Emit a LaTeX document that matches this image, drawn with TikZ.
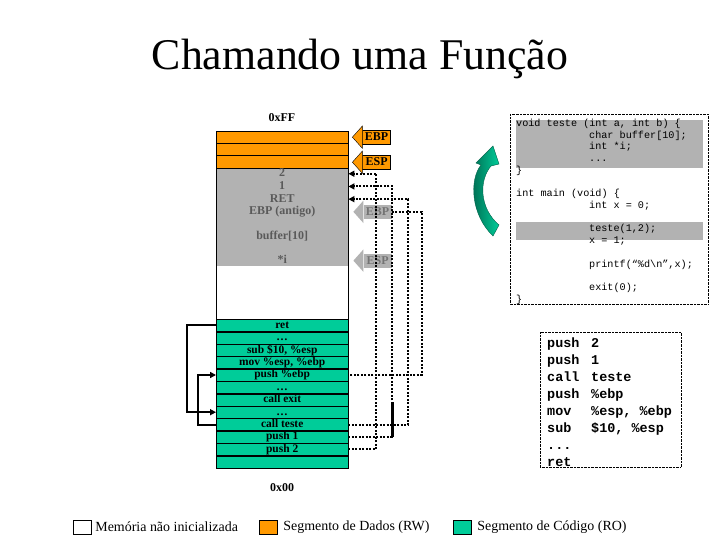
\documentclass[tikz,border=0pt]{standalone}
\usepackage{fontspec}
\setmainfont{Liberation Serif}
\setmonofont{Liberation Mono}
\usetikzlibrary{positioning,arrows.meta,calc}

\definecolor{dados}{RGB}{255,153,0}
\definecolor{codigo}{RGB}{0,204,153}
\definecolor{pilha}{RGB}{178,178,178}
\definecolor{pilhatxt}{RGB}{90,90,90}
\definecolor{rotulotxt}{RGB}{115,115,115}
\definecolor{verdeescuro}{RGB}{0,100,75}

\newcommand{\recuo}{\hspace*{73bp}}
\newcommand{\esp}{\hspace{0.6em}}
\newcommand{\instr}[2]{\makebox[44bp][l]{#1}#2}
\newcommand{\fontecodigo}{\fontsize{10.2}{11.75}\selectfont\ttfamily}
\newcommand{\fonteasm}{\fontsize{13.5}{17}\selectfont\ttfamily\bfseries}
% arrow head on the left of a register label
\newcommand{\cabeca}[2]{\filldraw[#2] (#1.north west) -- ++(0,-4) -- ($(#1.west)+(-10,0)$) -- ($(#1.south west)+(0,4)$) -- (#1.south west);}

\begin{document}
\begin{tikzpicture}[
    x=1bp, y=-1bp,
    cell/.style={draw, thin, minimum width=132bp, inner sep=0pt, text height=8bp, text depth=2bp, anchor=north west},
    codecell/.style={cell, fill=codigo, minimum height=12bp, font=\fontsize{11.5}{12}\selectfont\bfseries},
    stacktext/.style={text=pilhatxt, font=\fontsize{12}{12}\selectfont\bfseries, inner sep=0pt, text height=8.3bp, text depth=2bp},
    regbox/.style={inner sep=1.5bp, minimum width=28bp, text height=9bp, text depth=2bp, font=\fontsize{12}{12}\selectfont\bfseries, anchor=west},
    databox/.style={regbox, draw, thin, fill=dados, text=black},
    stackbox/.style={regbox, fill=pilha, text=rotulotxt},
    link/.style={line width=2bp, dash pattern=on 2bp off 1.5bp},
    linkarrow/.style={link, -{Triangle[length=6bp,width=6bp]}},
    jump/.style={line width=2bp, -{Triangle[length=6bp,width=6bp]}},
    boxline/.style={densely dotted, thin},
    codetext/.style={anchor=north west, align=left, inner sep=0pt},
    legendbox/.style={draw, thin, minimum width=18bp, minimum height=14bp, inner sep=0pt},
    legendtext/.style={font=\fontsize{14}{14}\selectfont, anchor=west, inner sep=0pt},
]
\fill[white] (0,0) rectangle (720,540);
\useasboundingbox (0,0) rectangle (720,540);

% ---- Title ----
\node[font=\fontsize{44}{44}\selectfont] (titulo) at (360,59) {Chamando uma Função};

% ---- Memory column ----
\node[font=\fontsize{12}{12}\selectfont\bfseries] (topo) at (282,118) {0xFF};
\node[cell, fill=dados, minimum height=37bp] (dados) at (216,131) {};
\node[cell, draw=none, fill=pilha, minimum height=97bp, below=0pt of dados] (pilha) {};
\node[cell, draw=none, fill=white, minimum height=53bp, below=0pt of pilha] (livre) {};
\node[codecell, below=0pt of livre] (c1) {ret};
\node[codecell, below=0pt of c1] (c2) {\ldots};
\node[codecell, below=0pt of c2] (c3) {sub \$10, \%esp};
\node[codecell, below=0pt of c3] (c4) {mov \%esp, \%ebp};
\node[codecell, below=0pt of c4] (c5) {push \%ebp};
\node[codecell, below=0pt of c5] (c6) {\ldots};
\node[codecell, below=0pt of c6] (c7) {call exit};
\node[codecell, below=0pt of c7] (c8) {\ldots};
\node[codecell, below=0pt of c8] (c9) {call teste};
\node[codecell, below=0pt of c9] (c10) {push 1};
\node[codecell, below=0pt of c10] (c11) {push 2};
\node[codecell, below=0pt of c11] (c12) {};
\draw[thin] (dados.north west) rectangle (c12.south east);
\node[font=\fontsize{12}{12}\selectfont\bfseries, below=12bp of c12] (base) {0x00};

% stack frame contents
\node[stacktext, below=0pt of pilha.north] (t2) {2};
\node[stacktext, below=2bp of t2] (t1) {1};
\node[stacktext, below=2bp of t1] (tret) {RET};
\node[stacktext, below=2bp of tret] (tebp) {EBP (antigo)};
\node[stacktext, below=13.7bp of tebp] (tbuf) {buffer[10]};
\node[stacktext, below=13.7bp of tbuf] (ti) {*i};

% ---- Register pointers ----
\node[databox] (ebp1) at ($(dados.north east)+(14,6.17)$) {EBP};
\cabeca{ebp1}{fill=dados, draw=black, thin}
\node[databox] (esp1) at ($(dados.south east)+(14,-6.17)$) {ESP};
\cabeca{esp1}{fill=dados, draw=black, thin}
\node[stackbox] (ebp2) at ($(pilha.east |- tebp)+(15,0)$) {EBP};
\cabeca{ebp2}{fill=pilha, draw=none}
\node[stackbox] (esp2) at ($(pilha.east |- ti)+(15,0)$) {ESP};
\cabeca{esp2}{fill=pilha, draw=none}

% ---- Return addresses / pushed values ----
\draw[linkarrow] (c11.east) -- ++(28,0) |- (t2 -| pilha.east);
\draw[linkarrow] (c10.east) -- ++(44,0) |- (t1 -| pilha.east);
\draw[line width=2.2bp] ($(c10.east)+(44,0)$) -- ++(0,-35);
\draw[linkarrow] (c9.east) -- ++(60,0) |- (tret -| pilha.east);
\draw[link] (ebp2.east) -- ++(30,0) |- (c5.east);

% ---- Control flow ----
\draw[jump] (c1.west) -- ++(-29,0) |- (c8.west);
\draw[jump] (c9.west) -- ++(-18,0) |- (c5.west);

% ---- C source ----
\fill[pilha] (516,120) rectangle (703,168);
\fill[pilha] (516,222) rectangle (703,240);
\draw[boxline] (510,114) rectangle (708,304);
\node[codetext, text width=186bp, font=\fontecodigo] (fonte) at (516,119) {%
void\esp teste\esp (int\esp a,\esp int\esp b)\esp \{\\
\recuo char\esp buffer[10];\\
\recuo int\esp *i;\\
\recuo ...\\
\}\\
\mbox{}\\
int\esp main\esp (void)\esp \{\\
\recuo int\esp x\esp =\esp 0;\\
\mbox{}\\
\recuo teste(1,2);\\
\recuo x\esp =\esp 1;\\
\mbox{}\\
\recuo printf(“\%d\textbackslash n”,x);\\
\mbox{}\\
\recuo exit(0);\\
\}};

% call arrow
\shade[left color=verdeescuro, right color=codigo, draw=verdeescuro, thin]
  (493,236) .. controls (471,215) and (469,180) .. (481,165) -- (476,163) -- (493,146)
  -- (499,164) -- (491,166) .. controls (479,180) and (479,208) .. (499,225) -- cycle;

% ---- Assembly ----
\draw[boxline] (540,332) rectangle (681,467);
\node[codetext, text width=127bp, font=\fonteasm] (asm) at (547,338) {%
\instr{push}{2}\\
\instr{push}{1}\\
\instr{call}{teste}\\
\instr{push}{\%ebp}\\
\instr{mov}{\%esp,\esp \%ebp}\\
\instr{sub}{\$10,\esp \%esp}\\
...\\
ret};

% ---- Legend ----
\node[legendbox, fill=white] (lnovo) at (82,527) {};
\node[legendtext, right=4bp of lnovo] (tnovo) {Memória não inicializada};
\node[legendbox, fill=dados] (ldados) at (268,527) {};
\node[legendtext, right=6bp of ldados] (tdados) {Segmento de Dados (RW)};
\node[legendbox, fill=codigo] (lcodigo) at (462,527) {};
\node[legendtext, right=6bp of lcodigo] (tcodigo) {Segmento de Código (RO)};

% data rows (drawn last)
\fill[dados] ($(dados.north west)+(0.5,12.33)$) rectangle ($(dados.north east)+(-0.5,24.67)$);
\draw[thin] ($(dados.north west)+(0,12.33)$) -- ($(dados.north east)+(0,12.33)$);
\draw[thin] ($(dados.north west)+(0,24.67)$) -- ($(dados.north east)+(0,24.67)$);

\end{tikzpicture}
\end{document}
